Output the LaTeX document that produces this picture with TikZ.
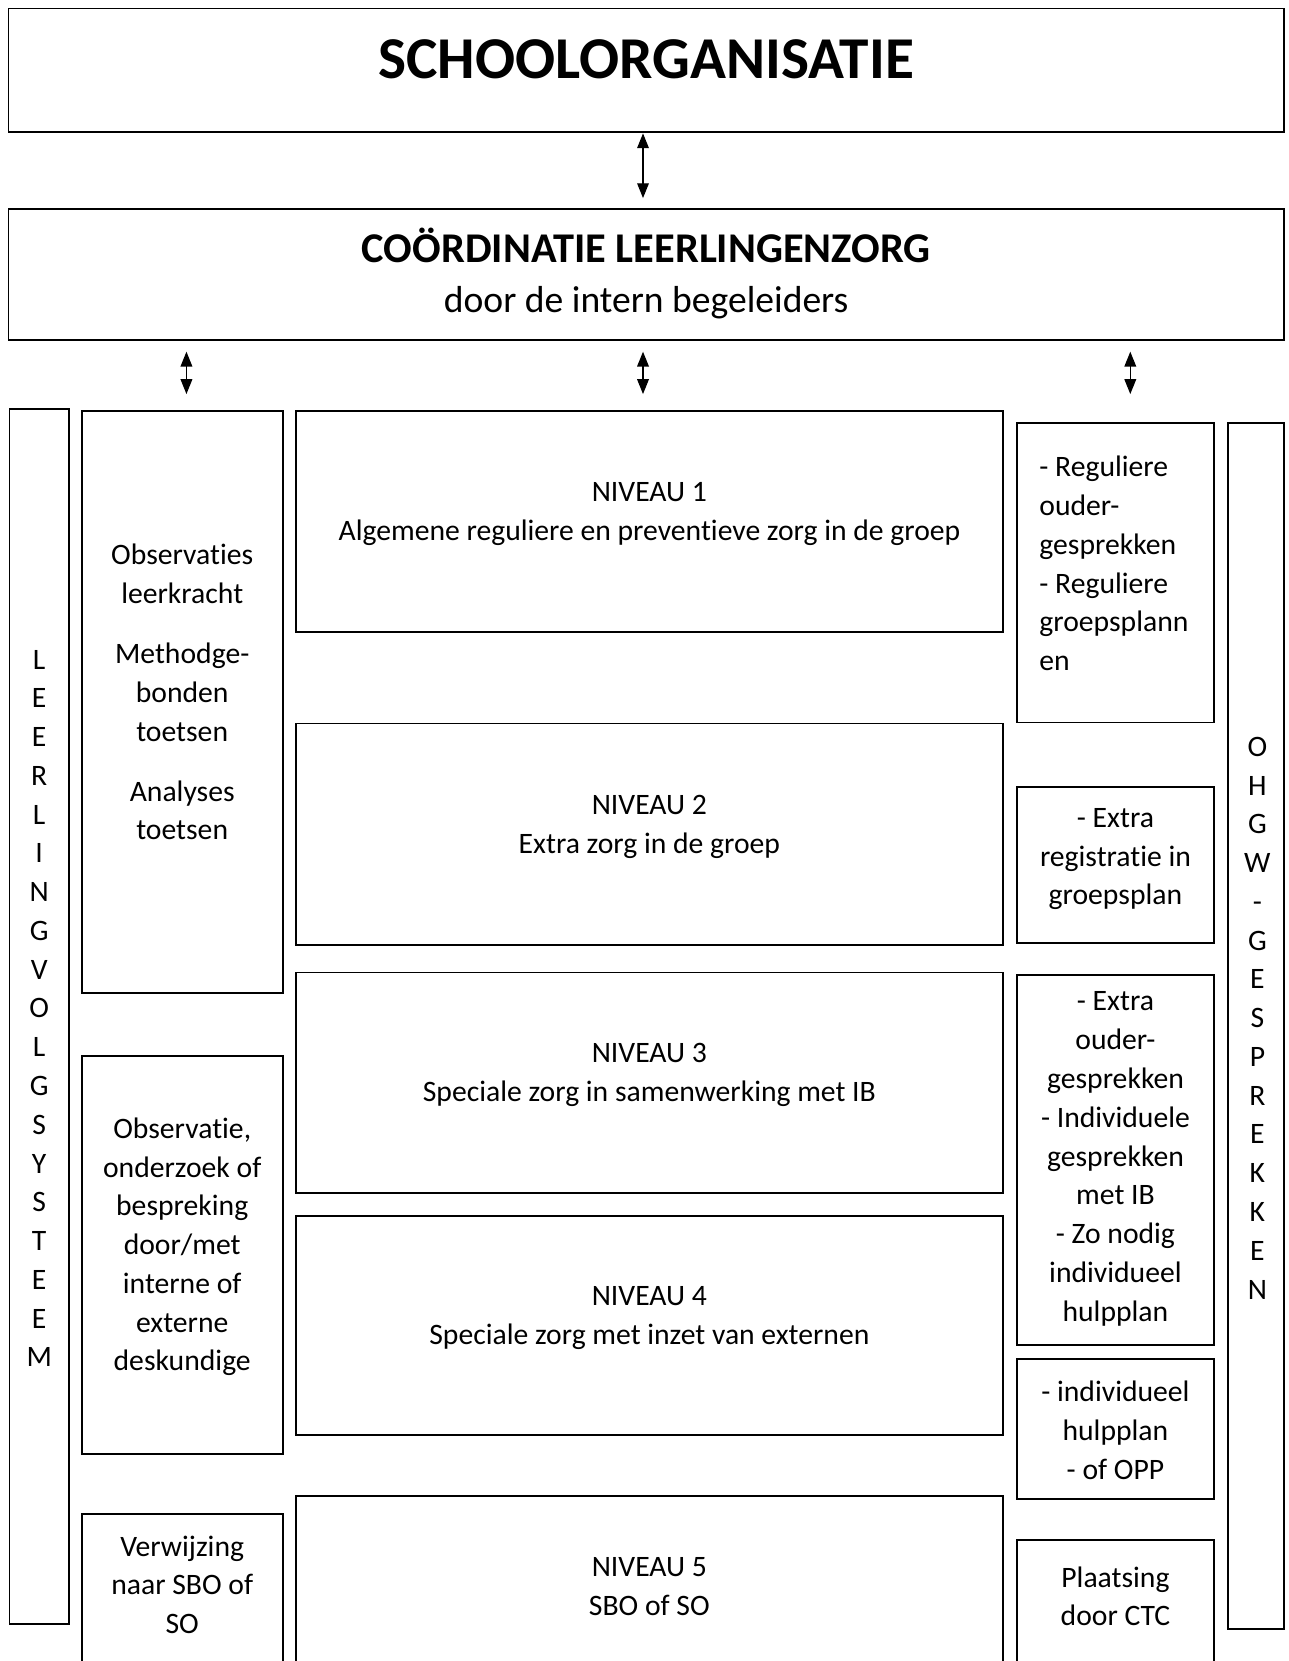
\documentclass[tikz,border=0pt]{standalone}
\usepackage{fontspec}
\setmainfont{Carlito}[Ligatures=NoCommon]
\usepackage{tikz}
\usetikzlibrary{arrows.meta}

\tikzset{
	box/.style={draw, line width=1.8pt, inner sep=0pt},
	txt/.style={font=\fontsize{28}{36.6}\selectfont, align=center, inner sep=0pt},
	dbl/.style={line width=1.2pt, {Triangle[width=11pt,length=14pt]}-{Triangle[width=11pt,length=14pt]}}
}

\begin{document}
\begin{tikzpicture}[x=1pt, y=-1pt]
		\useasboundingbox (0,0) rectangle (1216,1568);

		% kop
		\node[box, minimum width=1204pt, minimum height=117pt] (school) at (610,66.5) {};
		\node[font=\fontsize{56}{60}\bfseries, inner sep=0pt] (schooltxt) at (610,56) {SCHOOLORGANISATIE};

		\node[box, minimum width=1204pt, minimum height=124pt] (coord) at (610,259) {};
		\node[font=\fontsize{40}{44}\bfseries, inner sep=0pt] (coordtxt) at (610,232) {COÖRDINATIE LEERLINGENZORG};
		\node[font=\fontsize{35.5}{44}\selectfont, inner sep=0pt] (coordsub) at (610,286) {door de intern begeleiders};

		\coordinate (t1) at (607,187);
		\draw[dbl] (school.south -| t1) -- (t1);

		\coordinate (a1) at (176,332);
		\coordinate (b1) at (176,372);
		\coordinate (a2) at (607,332);
		\coordinate (b2) at (607,372);
		\coordinate (a3) at (1067,332);
		\coordinate (b3) at (1067,372);
		\draw[dbl] (a1) -- (b1);
		\draw[dbl] (a2) -- (b2);
		\draw[dbl] (a3) -- (b3);

		% linker kolommen
		\node[box, minimum width=56pt, minimum height=1147pt] (lvs) at (37,959.5) {};
		\node[txt] (lvstxt) at (37,952) {L\\E\\E\\R\\L\\I\\N\\G\\V\\O\\L\\G\\S\\Y\\S\\T\\E\\E\\M};

		\node[box, minimum width=190pt, minimum height=549pt] (obs1) at (172,662.5) {};
		\node[txt] (obs1txt) at (172,653.5) {Observaties\\leerkracht\\[20pt]Methodge-\\bonden\\toetsen\\[20pt]Analyses\\toetsen};

		\node[box, minimum width=190pt, minimum height=376pt] (obs2) at (172,1185) {};
		\node[txt] (obs2txt) at (172,1177) {Observatie,\\onderzoek of\\bespreking\\door/met\\interne of\\externe\\deskundige};

		\node[box, minimum width=190pt, minimum height=171pt] (verw) at (172,1514.5) {};
		\node[txt] (verwtxt) at (172,1496) {Verwijzing\\naar SBO of\\SO};

		% niveaus
		\node[box, minimum width=668pt, minimum height=209pt] (n1) at (613,492.5) {};
		\node[box, minimum width=668pt, minimum height=209pt] (n2) at (613,787.5) {};
		\node[box, minimum width=668pt, minimum height=208pt] (n3) at (613,1022) {};
		\node[box, minimum width=668pt, minimum height=207pt] (n4) at (613,1251.5) {};
		\node[box, minimum width=668pt, minimum height=188pt] (n5) at (613,1506) {};

		\node[txt] (n1txt) at (613,485) {NIVEAU 1\\Algemene reguliere en preventieve zorg in de groep};
		\node[txt] (n2txt) at (613,780.5) {NIVEAU 2\\Extra zorg in de groep};
		\node[txt] (n3txt) at (613,1014.5) {NIVEAU 3\\Speciale zorg in samenwerking met IB};
		\node[txt] (n4txt) at (613,1244.5) {NIVEAU 4\\Speciale zorg met inzet van externen};
		\node[txt] (n5txt) at (613,1498) {NIVEAU 5\\SBO of SO};

		% rechter kolommen
		\node[box, minimum width=186pt, minimum height=283pt] (r1) at (1053,540.5) {};
		\node[txt, align=left, anchor=west] (r1txt) at (981,532) {- Reguliere\\ouder-\\gesprekken\\- Reguliere\\groepsplann\\en};

		\node[box, minimum width=186pt, minimum height=147pt] (r2) at (1053,816.5) {};
		\node[txt] (r2txt) at (1053,811) {- Extra\\registratie in\\groepsplan};

		\node[box, minimum width=186pt, minimum height=350pt] (r3) at (1053,1095) {};
		\node[txt] (r3txt) at (1053,1094) {- Extra\\ouder-\\gesprekken\\- Individuele\\gesprekken\\met IB\\- Zo nodig\\individueel\\hulpplan};

		\node[box, minimum width=186pt, minimum height=132pt] (r4) at (1053,1349) {};
		\node[txt] (r4txt) at (1053,1350) {- individueel\\hulpplan\\- of OPP};

		\node[box, minimum width=186pt, minimum height=146pt] (r5) at (1053,1527) {};
		\node[txt] (r5txt) at (1053,1507) {Plaatsing\\door CTC};

		\node[box, minimum width=53pt, minimum height=1139pt] (ohgw) at (1185.5,968.5) {};
		\node[txt] (ohgwtxt) at (1187,961) {O\\H\\G\\W\\-\\G\\E\\S\\P\\R\\E\\K\\K\\E\\N};

		\end{tikzpicture}
\end{document}
